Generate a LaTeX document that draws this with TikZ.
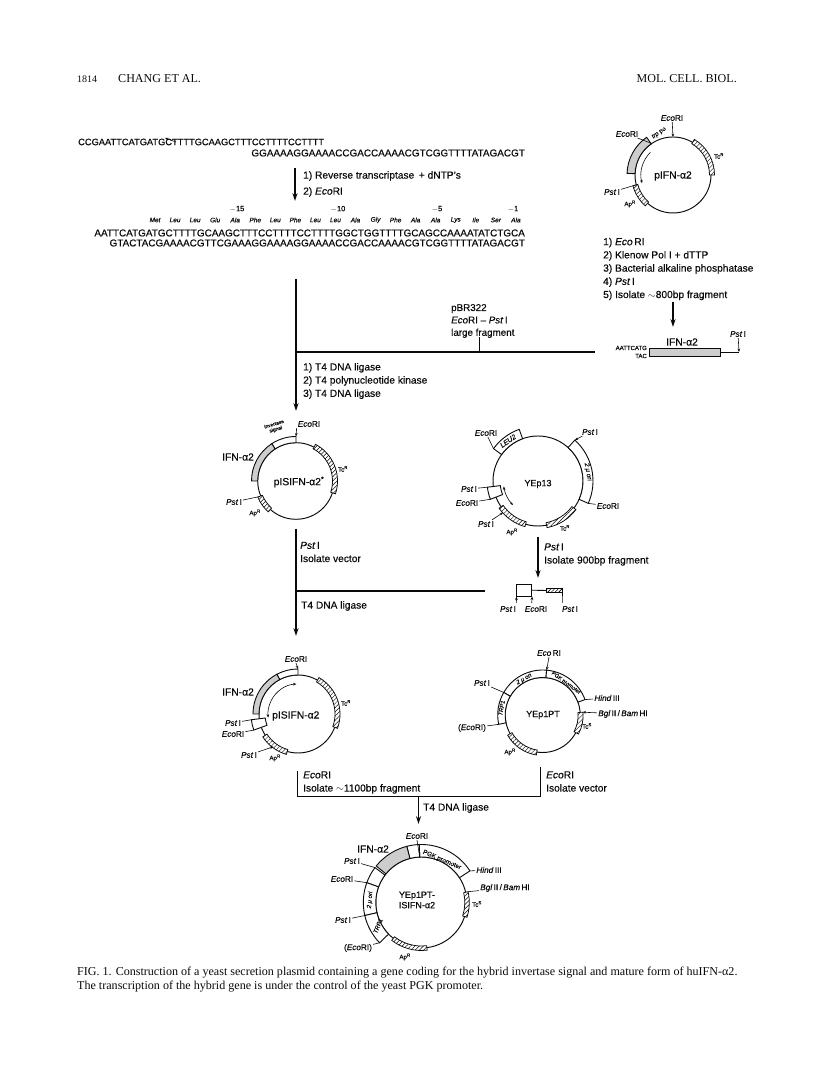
\documentclass[tikz,border=0pt]{standalone}
\usepackage{fontspec}
\setmainfont{Liberation Serif}
\setsansfont{Liberation Sans}[FakeBold=0.35]
\usetikzlibrary{calc,arrows.meta,patterns.meta}
\definecolor{ink}{RGB}{10,10,10}
\definecolor{cIns}{RGB}{205,205,205}
\newcommand{\eco}{\textit{Eco}RI}
\newcommand{\pst}{\textit{Pst}\,I}
% annular sector of a plasmid: centre, inner r, outer r, from angle, to angle, style
\newcommand{\band}[6]{\draw[#6] ($(#1)+(#4:#3)$) arc[start angle=#4,end angle=#5,radius=#3] -- ($(#1)+(#5:#2)$) arc[start angle=#5,end angle=#4,radius=#2] -- cycle;}

\begin{document}
\begin{tikzpicture}[
  x=1pt, y=1pt,
  font=\sffamily,
  color=ink,
  >={Stealth[length=8pt,width=5.2pt]},
  seqline/.style={inner sep=0pt, font=\sffamily\fontsize{9.92}{11}\selectfont},
  steps/.style={inner sep=0pt, anchor=west, align=left, font=\sffamily\fontsize{10.2}{13.2}\selectfont},
  tag/.style={inner sep=1pt, font=\sffamily\fontsize{8.2}{9}\selectfont},
  mini/.style={inner sep=0pt, font=\sffamily\fontsize{6.2}{7}\selectfont},
  plname/.style={inner sep=0pt, font=\sffamily\fontsize{10.3}{11}\selectfont},
  aa/.style={inner sep=0pt, font=\sffamily\itshape\fontsize{6.5}{7}\selectfont},
  pagetxt/.style={inner sep=0pt, anchor=west, font=\rmfamily\fontsize{12.07}{14}\selectfont},
  ring/.style={line width=0.95pt},
  mainln/.style={line width=1.25pt},
  ptr/.style={line width=0.6pt},
  ptra/.style={line width=0.6pt, -{Stealth[length=3.4pt,width=2.6pt]}},
  insert/.style={draw=ink, line width=0.9pt, fill=cIns},
  blank/.style={draw=ink, line width=0.9pt, fill=white},
  hatch/.style={draw=ink, line width=0.75pt, fill=white, postaction={pattern={Lines[angle=45,distance=3pt,line width=0.45pt]}, pattern color=ink}},
]
\useasboundingbox (0,0) rectangle (816,1081);

% ---- running head and caption ----
\node[pagetxt, font=\rmfamily\fontsize{10}{12}\selectfont] (pgno) at (77,1002) {1814};
\node[pagetxt] (head) at (118,1002) {CHANG ET AL.};
\node[pagetxt, anchor=east] (jrnl) at (737,1002) {MOL. CELL. BIOL.};
\node[pagetxt] (capA) at (77,108) {FIG. 1. Construction of a yeast secretion plasmid containing a gene coding for the hybrid invertase signal and mature form of huIFN-α2.};
\node[pagetxt] (capB) at (77,94) {The transcription of the hybrid gene is under the control of the yeast PGK promoter.};

% ---- primer on mRNA ----
\node[seqline, anchor=west, font=\sffamily\fontsize{9.28}{11}\selectfont] (seqA) at (78,939) {CCGAATTCATGATGCTTTTGCAAGCTTTCCTTTTCCTTTT};
\node[seqline, anchor=east] (seqB) at (525,928) {GGAAAAGGAAAACCGACCAAAACGTCGGTTTTATAGACGT};
\coordinate (nickA) at (165,943);
\coordinate (nickB) at (176,939);
\draw[ptra] (nickB) -- (nickA);
\coordinate (sA) at (295,913);
\coordinate (sB) at (295,880);
\draw[mainln,->] (sA) -- (sB);
\node[steps] (stepA) at (303,905) {1) Reverse transcriptase \,+ dNTP's};
\node[steps] (stepAb) at (303,889) {2) \eco};

\foreach \x/\lab in {237/$-$15, 338/$-$10, 437/$-$5, 513/$-$1}
  \node[inner sep=0pt, font=\sffamily\fontsize{7.5}{9}\selectfont] (n\x) at (\x,872) {\lab};
\foreach \lab [count=\i from 0] in {Met,Leu,Leu,Glu,Ala,Phe,Leu,Phe,Leu,Leu,Ala,Gly,Phe,Ala,Ala,Lys,Ile,Ser,Ala}
  \node[aa] (aa\i) at ({155+20.05*\i},861) {\lab};
\node[seqline, anchor=east] (seqC) at (525,848) {AATTCATGATGCTTTTGCAAGCTTTCCTTTTCCTTTTGGCTGGTTTTGCAGCCAAAATATCTGCA};
\node[seqline, anchor=east] (seqD) at (525,838) {GTACTACGAAAACGTTCGAAAGGAAAAGGAAAACCGACCAAAACGTCGGTTTTATAGACGT};

% ---- pIFN-a2 ----
\coordinate (pA) at (673,906);
\draw[ring] (pA) circle[radius=38];
\band{pA}{38}{46}{125}{178}{insert}
\band{pA}{36.5}{41.5}{0}{59}{hatch}
\band{pA}{36.5}{41.5}{195}{228}{hatch}
\draw[ptra] ($(pA)+(135:32)$) arc[start angle=135,end angle=195,radius=32];
\node[tag] (aEco) at (672,963) {\eco};
\node[tag] (aEcoL) at (627,947) {\eco};
\node[tag] (aPst) at (612,889) {\pst};
\node[mini, rotate=35] (aTrp) at (659,948) {\textit{trp} po};
\node[mini] (aTc) at (719,925) {Tc\textsuperscript{R}};
\node[mini] (aAp) at (630,877) {Ap\textsuperscript{R}};
\node[plname] (aName) at (673,905) {pIFN-α2};
\draw[ptra] (aEco) -- ($(pA)+(90:38)$);
\draw[ptr] (aEcoL) -- ($(pA)+(124:38)$);
\draw[ptr] (aPst) -- ($(pA)+(195:38)$);
\node[steps] (stepB) at (603,812) {1) \textit{Eco}\,RI\\2) Klenow Pol I + dTTP\\3) Bacterial alkaline phosphatase\\4) \pst\\5) Isolate $\sim$800bp fragment};
\coordinate (bA) at (673,779);
\coordinate (bB) at (673,754);
\draw[mainln,->] (bA) -- (bB);

% ---- IFN fragment and its joining line ----
\node[draw=ink, line width=0.9pt, fill=cIns, minimum width=71pt, minimum height=8pt, inner sep=0pt] (frag) at (684.5,729) {};
\node[plname] (fragLab) at (682,739) {IFN-α2};
\node[inner sep=0pt, font=\sffamily\fontsize{6}{7}\selectfont, anchor=east] (fragA) at (647,733) {AATTCATG};
\node[inner sep=0pt, font=\sffamily\fontsize{6}{7}\selectfont, anchor=east] (fragB) at (647,725) {TAC};
\node[tag] (fragP) at (738,747) {\pst};
\coordinate (fragEnd) at (739,729);
\draw[line width=0.9pt] (frag.east) -- (fragEnd);
\draw[ptra] (fragP) -- (fragEnd);
\coordinate (topL) at (296,802);
\coordinate (joinL) at (296,729);
\coordinate (joinR) at (595,729);
\coordinate (tipL) at (296,670);
\draw[mainln] (joinL) -- (joinR);
\draw[mainln,->] (topL) -- (tipL);
\coordinate (tickA) at (479,729);
\coordinate (tickB) at (479,744);
\draw[line width=1pt] (tickA) -- (tickB);
\node[steps, font=\sffamily\fontsize{9.8}{12.4}\selectfont] (stepC) at (451,760) {pBR322\\\textit{Eco}RI -- \textit{Pst}\,I\\large fragment};
\node[steps] (stepD) at (303,700) {1) T4 DNA ligase\\2) T4 polynucleotide kinase\\3) T4 DNA ligase};

% ---- pISIFN-a2* ----
\coordinate (pB) at (296,600);
\draw[ring] (pB) circle[radius=38.3];
\band{pB}{38.3}{44.5}{90}{123}{blank}
\band{pB}{38.3}{44.5}{123}{180}{insert}
\band{pB}{36.5}{41.5}{-18}{62}{hatch}
\band{pB}{36.5}{41.5}{203}{228}{hatch}
\node[tag] (bEco) at (309,657) {\eco};
\node[plname] (bIfn) at (238,624) {IFN-α2};
\node[tag] (bPst) at (234,579) {\pst};
\node[mini] (bTc) at (343,612) {Tc\textsuperscript{R}};
\node[mini] (bAp) at (255,568) {Ap\textsuperscript{R}};
\node[mini, rotate=17, align=center, font=\sffamily\fontsize{5}{5.4}\selectfont] (bInv) at (275,654) {invertase\\signal};
\node[plname] (bName) at (299,599) {pISIFN-α2\textsuperscript{*}};
\draw[ptra] (bEco.south west) -- ($(pB)+(90:44.5)$);
\draw[ptr] (bPst) -- ($(pB)+(203:40)$);

\coordinate (cA) at (296,552);
\coordinate (cB) at (296,445);
\draw[mainln,->] (cA) -- (cB);
\node[steps] (stepE) at (300,529) {\pst\\Isolate vector};
\node[steps] (stepF) at (301,475) {T4 DNA ligase};
\coordinate (joinC) at (296,490);
\coordinate (joinD) at (485,490);
\draw[mainln] (joinC) -- (joinD);

% ---- YEp13 ----
\coordinate (pC) at (538,600);
\draw[ring] (pC) circle[radius=45];
\band{pC}{45}{55}{110}{144}{blank}
\band{pC}{45}{55}{-24}{48}{blank}
\band{pC}{38}{51}{187}{201}{blank}
\band{pC}{42.5}{47.5}{215}{254}{hatch}
\band{pC}{42.5}{47.5}{281}{323}{hatch}
\draw[ptr,<->,>={Stealth[length=3.4pt,width=2.6pt]}] ($(pC)+(189:34.7)$) arc[start angle=189,end angle=224,radius=34.7];
\node[tag] (cEcoA) at (486,648) {\eco};
\node[tag] (cPstA) at (590,649) {\pst};
\node[tag] (cEcoB) at (608,575) {\eco};
\node[tag] (cPstB) at (469,592) {\pst};
\node[tag] (cEcoC) at (467,578) {\eco};
\node[tag] (cPstC) at (486,557) {\pst};
\node[mini] (cAp) at (512,549) {Ap\textsuperscript{R}};
\node[mini] (cTc) at (565,553) {Tc\textsuperscript{R}};
\node[plname, font=\sffamily\fontsize{9}{10}\selectfont] (cName) at (538,597) {YEp13};
\node[tag, inner sep=0pt, rotate=35, font=\sffamily\itshape\fontsize{7}{8}\selectfont] (cLeu) at (508,640) {LEU2};
\node[mini, rotate=-80, font=\sffamily\itshape\fontsize{6.5}{7}\selectfont] (cOri) at (588,609) {2 μ ori};
\draw[ptr] (cEcoA) -- ($(pC)+(144:55)$);
\draw[ptra] (cPstA) -- ($(pC)+(48:55)$);
\draw[ptr] (cEcoB) -- ($(pC)+(-24:55)$);
\draw[ptr] (cPstB) -- ($(pC)+(187:51)$);
\draw[ptr] (cEcoC) -- ($(pC)+(201:51)$);
\draw[ptra] (cPstC) -- ($(pC)+(222:47)$);

\coordinate (dA) at (538,544);
\coordinate (dB) at (538,503);
\draw[mainln,->] (dA) -- (dB);
\node[steps] (stepG) at (544,526.5) {\pst\\Isolate 900bp fragment};

% ---- 900 bp fragment ----
\node[draw=ink, line width=0.9pt, minimum width=15pt, minimum height=11.7pt, inner sep=0pt] (dBox) at (524.2,490.8) {};
\node[draw=ink, line width=0.7pt, pattern={Lines[angle=45,distance=2.6pt,line width=0.6pt]}, minimum width=15.6pt, minimum height=4.4pt, inner sep=0pt] (dHat) at (554.5,490.5) {};
\draw[line width=0.9pt] (dBox.east) -- (dHat.west);
\node[tag] (dPstA) at (508,472) {\pst};
\node[tag] (dEco) at (536,472) {\eco};
\node[tag] (dPstB) at (570,472) {\pst};
\coordinate (dUpA) at (516.7,478);
\coordinate (dUpB) at (531.7,478);
\coordinate (dUpC) at (562.3,478);
\draw[ptra] (dUpA) -- (dBox.south west);
\draw[ptra] (dUpB) -- (dBox.south east);
\draw[ptr] (dUpC) -- (dHat.north east);

% ---- pISIFN-a2 ----
\coordinate (pD) at (298,367);
\draw[ring] (pD) circle[radius=39];
\band{pD}{39}{45}{90}{118}{blank}
\band{pD}{39}{45}{118}{180}{insert}
\band{pD}{33}{47}{187}{200}{blank}
\band{pD}{37}{42}{-20}{60}{hatch}
\band{pD}{37}{42}{213}{254}{hatch}
\draw[ptr,<->,>={Stealth[length=3.4pt,width=2.6pt]}] ($(pD)+(93:30)$) arc[start angle=93,end angle=187,radius=30];
\node[tag] (dEcoT) at (296,422) {\eco};
\node[plname] (dIfn) at (238,389) {IFN-α2};
\node[mini] (dTc) at (346,378) {Tc\textsuperscript{R}};
\node[plname, anchor=west] (dName) at (272,365) {pISIFN-α2};
\node[tag] (dPstP) at (233,358) {\pst};
\node[tag] (dEcoP) at (233,347) {\eco};
\node[tag] (dPstQ) at (249,326) {\pst};
\node[mini] (dAp) at (275,323) {Ap\textsuperscript{R}};
\draw[ptra] (dEcoT.south) -- ($(pD)+(90:45)$);
\draw[ptr] (dPstP) -- ($(pD)+(187:47)$);
\draw[ptr] (dEcoP) -- ($(pD)+(200:47)$);
\draw[ptra] (dPstQ) -- ($(pD)+(233:41)$);

% ---- YEp1PT ----
\coordinate (pE) at (542.7,366);
\draw[ring] (pE) circle[radius=37.5];
\band{pE}{37.5}{45}{85}{150}{blank}
\band{pE}{37.5}{45}{150}{192}{blank}
\band{pE}{37.5}{45}{20}{85}{blank}
\band{pE}{35.5}{40.5}{-28}{4}{hatch}
\band{pE}{35.5}{40.5}{210}{261}{hatch}
\node[tag] (eEco) at (549,428) {\textit{Eco}\,RI};
\node[tag] (ePst) at (482,398) {\pst};
\node[tag] (eHind) at (607,383) {\textit{Hind}\,III};
\node[tag] (eBgl) at (623,367) {\textit{Bgl}\,II\,/\,\textit{Bam}\,HI};
\node[tag] (eEcoB) at (472,353) {(\eco)};
\node[mini] (eAp) at (510,329) {Ap\textsuperscript{R}};
\node[mini] (eTc) at (587,355) {Tc\textsuperscript{S}};
\node[plname, font=\sffamily\fontsize{9}{10}\selectfont] (eName) at (543,366) {YEp1PT};
\node[mini, rotate=80, font=\sffamily\itshape\fontsize{6}{7}\selectfont] (eTrp) at (501.5,373) {TRP1};
\node[mini, rotate=30, font=\sffamily\itshape\fontsize{6}{7}\selectfont] (eOri) at (524,402) {2 μ ori};
\node[mini, rotate=-36, font=\sffamily\fontsize{5.4}{7}\selectfont] (ePgk) at (566,398) {PGK promoter};
\draw[ptra] (eEco.south) -- ($(pE)+(85:45)$);
\draw[ptr] (ePst) -- ($(pE)+(150:45)$);
\draw[ptr] (eHind) -- ($(pE)+(20:45)$);
\draw[ptra] (eBgl) -- ($(pE)+(4:40)$);
\draw[ptr] (eEcoB) -- ($(pE)+(192:45)$);

% ---- ligation of the two pieces ----
\coordinate (fA) at (297.7,310);
\coordinate (fB) at (297.7,284.3);
\coordinate (fC) at (540.5,284.3);
\coordinate (fD) at (540.5,314);
\draw[mainln] (fA) -- (fB) -- (fC) -- (fD);
\coordinate (fE) at (418.5,284.3);
\coordinate (fF) at (418.5,257);
\draw[mainln,->] (fE) -- (fF);
\node[steps] (stepH) at (303,298.5) {\eco\\Isolate $\sim$1100bp fragment};
\node[steps] (stepI) at (546,299.5) {\eco\\Isolate vector};
\node[steps] (stepJ) at (423,273) {T4 DNA ligase};

% ---- YEp1PT-ISIFN-a2 ----
\coordinate (pF) at (421.3,178.5);
\draw[ring] (pF) circle[radius=45.5];
\band{pF}{45.5}{58}{33}{92}{blank}
\band{pF}{45.5}{58}{92}{104.5}{blank}
\band{pF}{45.5}{58}{104.5}{141}{insert}
\band{pF}{45.5}{58}{143}{160}{blank}
\band{pF}{45.5}{58}{160}{193}{blank}
\band{pF}{45.5}{58}{193}{224}{blank}
\band{pF}{43.5}{48}{-18}{13}{hatch}
\band{pF}{43.5}{48}{232}{277}{hatch}
\node[tag] (fEco) at (417,245) {\eco};
\node[plname] (fIfn) at (373,232) {IFN-α2};
\node[tag] (fPstA) at (352,220) {\pst};
\node[tag] (fEcoA) at (342,202) {\eco};
\node[tag] (fPstB) at (343,161) {\pst};
\node[tag] (fEcoB) at (358,133) {(\eco)};
\node[tag] (fHind) at (489,211) {\textit{Hind}\,III};
\node[tag] (fBgl) at (505,193) {\textit{Bgl}\,II\,/\,\textit{Bam}\,HI};
\node[mini] (fTc) at (477,177) {Tc\textsuperscript{S}};
\node[mini] (fAp) at (405,124) {Ap\textsuperscript{R}};
\node[plname, align=center, font=\sffamily\fontsize{9}{10.4}\selectfont] (fName) at (417,181) {YEp1PT-\\ISIFN-α2};
\node[mini, rotate=85, font=\sffamily\itshape\fontsize{6}{7}\selectfont] (fOri) at (370,181) {2 μ ori};
\node[mini, rotate=68, font=\sffamily\itshape\fontsize{6}{7}\selectfont] (fTrp) at (378,155) {TRP1};
\node[mini, rotate=-23, font=\sffamily\fontsize{6.4}{7}\selectfont] (fPgk) at (442,221) {PGK promoter};
\draw[ptr] (fEco.south) -- ($(pF)+(92:45.5)$);
\draw[ptr] (fPstA) -- ($(pF)+(143:58)$);
\draw[ptr] (fEcoA) -- ($(pF)+(160:58)$);
\draw[ptr] (fPstB) -- ($(pF)+(193:58)$);
\draw[ptr] (fEcoB) -- ($(pF)+(224:58)$);
\draw[ptr] (fHind) -- ($(pF)+(33:58)$);
\draw[ptr] (fBgl) -- ($(pF)+(13:48)$);
\end{tikzpicture}
\end{document}
